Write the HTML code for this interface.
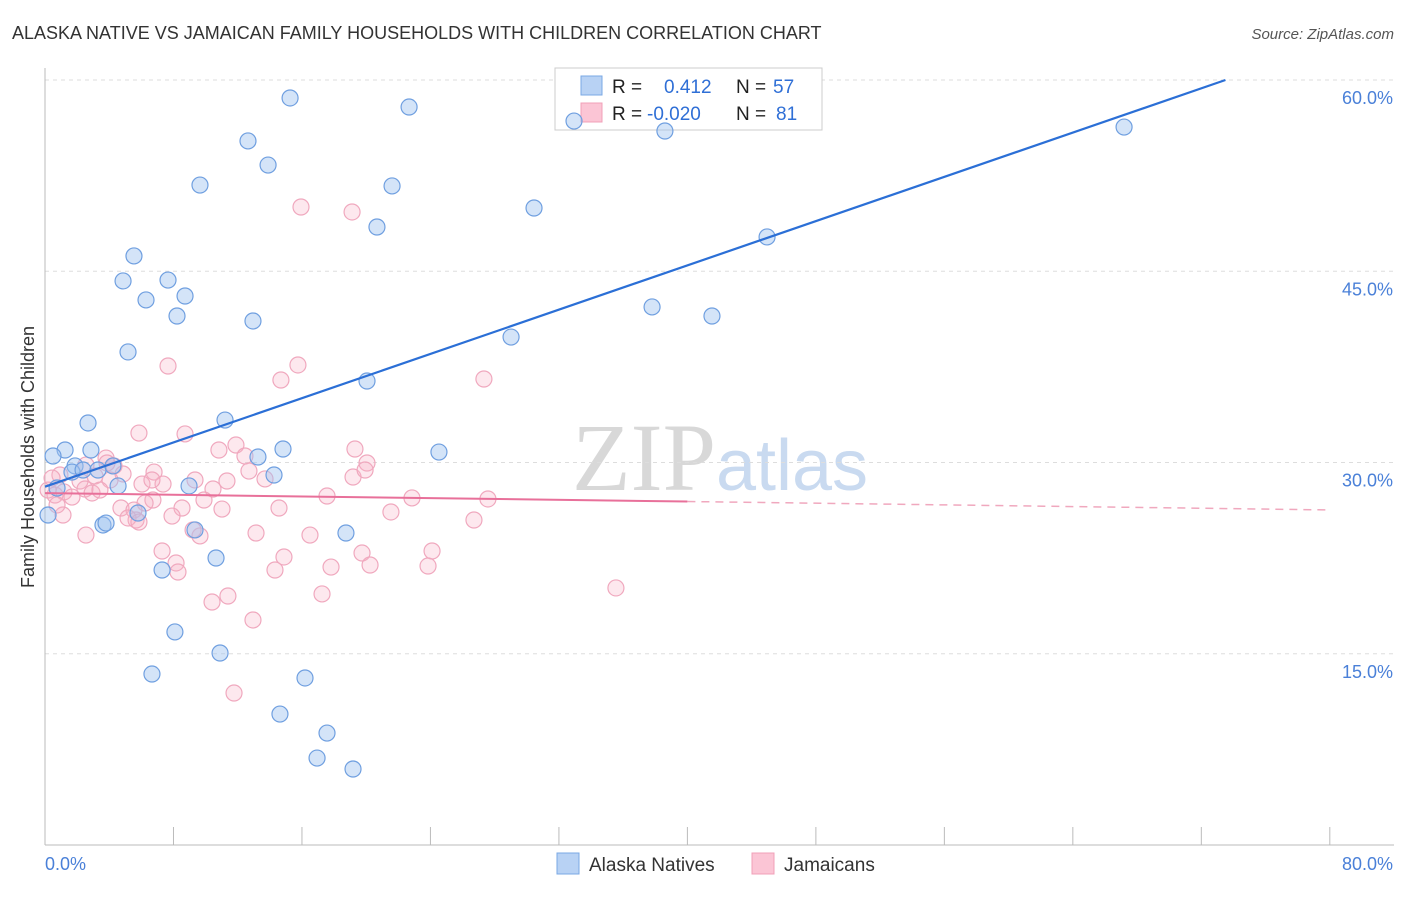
<!DOCTYPE html>
<html><head><meta charset="utf-8"><style>
body{margin:0;background:#fff;font-family:"Liberation Sans",sans-serif;}
svg text{font-family:"Liberation Sans",sans-serif;}
</style></head><body>
<svg id="chart" width="1406" height="892">
<text x="12" y="39" font-size="18" fill="#333">ALASKA NATIVE VS JAMAICAN FAMILY HOUSEHOLDS WITH CHILDREN CORRELATION CHART</text>
<text x="1394" y="39" font-size="15" fill="#555" font-style="italic" text-anchor="end">Source: ZipAtlas.com</text>
<text x="720" y="490" font-size="96" fill="#ddd" text-anchor="middle" font-family="Liberation Serif"><tspan fill="#d8d8d8" font-family="Liberation Serif">ZIP</tspan><tspan fill="#c9daf0" font-size="72" font-family="Liberation Sans">atlas</tspan></text>
<text transform="translate(34,457) rotate(-90)" font-size="18" fill="#333" text-anchor="middle">Family Households with Children</text>
<g id="grid"></g><g id="axes"></g>
<g>
<rect x="555" y="68" width="267" height="62" fill="#fff" stroke="#ccc"/>
<rect x="581" y="76" width="21" height="19" fill="#b8d2f4" stroke="#7aa8e4"/>
<rect x="581" y="103" width="21" height="19" fill="#fbc5d5" stroke="#f0a0b8"/>
<text x="612" y="93" font-size="19" fill="#222">R =  <tspan x="664" fill="#2f6fd6">0.412</tspan><tspan x="736" fill="#222">N = </tspan><tspan x="773" fill="#2f6fd6">57</tspan></text>
<text x="612" y="120" font-size="19" fill="#222">R = <tspan x="647" fill="#2f6fd6">-0.020</tspan><tspan x="736" fill="#222">N = </tspan><tspan x="776" fill="#2f6fd6">81</tspan></text>
</g>
<g id="pts"></g><g id="lines"></g>
<g>
<rect x="557" y="853" width="22" height="21" fill="#b8d2f4" stroke="#7aa8e4"/>
<text x="589" y="871" font-size="19" fill="#333">Alaska Natives</text>
<rect x="752" y="853" width="22" height="21" fill="#fbc5d5" stroke="#f0a0b8"/>
<text x="784" y="871" font-size="19" fill="#333">Jamaicans</text>
</g>
</svg>
<script>
const blueX=[15.26,22.67,32.94,38.60,67.19,12.64,13.89,9.65,21.61,30.45,20.67,44.96,5.54,4.86,7.66,6.29,8.72,8.22,12.95,37.80,41.53,29.02,5.17,20.05,11.21,2.68,1.25,2.86,0.50,24.53,14.82,13.26,1.87,1.68,2.37,3.30,4.23,14.26,4.55,8.97,0.75,0.19,3.61,3.80,5.79,9.34,18.74,7.29,10.65,8.09,10.90,6.66,16.19,14.63,17.56,16.94,19.18];
const blueY=[58.59,57.88,56.78,56.00,56.31,55.22,53.33,51.76,51.69,49.96,48.47,47.69,46.20,44.24,44.31,42.75,43.06,41.49,41.10,42.20,41.49,39.84,38.67,36.39,33.33,33.10,30.98,30.98,30.51,30.82,31.06,30.43,29.73,29.25,29.41,29.41,29.73,29.02,28.16,28.16,28.00,25.88,25.10,25.25,26.04,24.71,24.47,21.57,22.51,16.71,15.06,13.41,13.10,10.27,8.78,6.82,5.96];
const pinkX=[15.94,19.12,7.66,15.75,14.69,27.33,5.85,8.72,11.89,10.83,19.30,20.05,12.45,12.70,3.80,4.30,4.86,6.79,4.05,3.11,2.18,0.93,0.44,0.19,0.62,1.18,1.68,2.49,2.93,3.42,1.12,0.75,6.04,7.35,9.34,10.46,11.33,6.72,6.23,4.73,5.54,5.67,5.17,8.53,7.91,9.90,11.02,14.57,17.56,22.85,27.58,21.54,26.71,2.55,13.14,16.50,9.65,7.29,8.16,8.28,14.88,14.32,17.81,19.74,20.24,24.10,23.85,35.55,17.25,10.40,11.39,12.95,11.77,19.18,19.93,6.66,9.22,5.85,3.86,13.70,2.55];
const pinkY=[50.04,49.65,37.57,37.65,36.47,36.55,32.31,32.24,31.37,30.98,31.06,29.96,30.51,29.33,30.35,29.73,29.10,29.25,28.63,28.94,28.55,29.02,28.78,27.84,27.45,27.69,27.29,27.92,27.61,27.84,25.88,26.67,28.31,28.31,28.63,27.92,28.55,27.06,26.82,26.43,26.27,25.49,25.65,26.43,25.80,27.06,26.35,26.43,27.37,27.22,27.14,26.12,25.49,24.31,24.47,24.31,24.24,23.06,22.12,21.41,22.59,21.57,21.80,22.90,21.96,23.06,21.88,20.16,19.69,19.06,19.53,17.65,11.92,28.86,29.41,28.63,24.71,25.33,29.96,28.71,29.80];
const yTicks=[15,30,45,60];
const yTickLabels=["15.0%","30.0%","45.0%","60.0%"];
const xTicks=[0,8,16,24,32,40,48,56,64,72,80];
const blueTrend=[28.1,0.434]; // intercept, slope
const pinkTrend=[27.6,-0.0165];
const NS="http://www.w3.org/2000/svg";
const sx=v=>45+v*16.06, sy=v=>845-v*12.75;
function mk(t,a,p){const e=document.createElementNS(NS,t);for(const k in a)e.setAttribute(k,a[k]);document.getElementById(p).appendChild(e);return e;}
yTicks.forEach((t,i)=>{
 const l=mk('line',{x1:45,x2:1394,y1:sy(t),y2:sy(t),stroke:'#ddd','stroke-dasharray':'4,4'},'grid');
 
 
 const tx=mk('text',{x:1393,y:sy(t)+24,'font-size':18,fill:'#4a80d8','text-anchor':'end'},'axes');
 tx.textContent=yTickLabels[i];
 
 
});
const ya=mk('line',{x1:45,x2:45,y1:68,y2:845,stroke:'#bbb'},'axes');


const xa=mk('line',{x1:45,x2:1394,y1:845,y2:845,stroke:'#bbb'},'axes');


xTicks.forEach(t=>{const l=mk('line',{x1:sx(t),x2:sx(t),y1:827,y2:845,stroke:'#bbb'},'axes');
 
 });
[[0,'0.0%','start'],[80,'80.0%','end']].forEach(d=>{const t=mk('text',{x:d[0]?1393:45,y:870,'font-size':18,fill:'#4a80d8','text-anchor':d[2]},'axes');t.textContent=d[1];
 
 });
pinkX.forEach((x,i)=>{const c=mk('circle',{cx:sx(x),cy:sy(pinkY[i]),r:8,fill:'rgba(248,180,200,0.3)',stroke:'#f0a8be','stroke-width':1.2},'pts');
 
 });
blueX.forEach((x,i)=>{const c=mk('circle',{cx:sx(x),cy:sy(blueY[i]),r:8,fill:'rgba(160,196,240,0.45)',stroke:'#6f9fe0','stroke-width':1.2},'pts');
 
 });
const bxEnd=(60-blueTrend[0])/blueTrend[1];
const bl=mk('line',{x1:sx(0),y1:sy(blueTrend[0]),x2:sx(bxEnd),y2:sy(60),stroke:'#2b6fd6','stroke-width':2.2},'lines');


const pl=mk('line',{x1:sx(0),y1:sy(pinkTrend[0]),x2:sx(40),y2:sy(pinkTrend[0]+pinkTrend[1]*40),stroke:'#e8709a','stroke-width':2},'lines');


const pd=mk('line',{x1:sx(40),y1:sy(pinkTrend[0]+pinkTrend[1]*40),x2:sx(80),y2:sy(pinkTrend[0]+pinkTrend[1]*80),stroke:'#f0a8be','stroke-width':1.5,'stroke-dasharray':'8,6'},'lines');


</script>
</body></html>
